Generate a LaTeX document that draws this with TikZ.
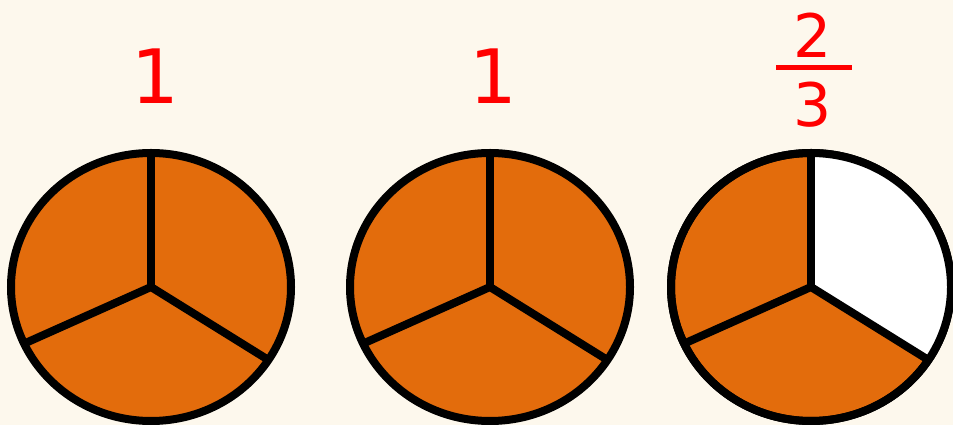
\documentclass[tikz,border=0pt]{standalone}
\usepackage{fontspec}
\setmainfont{DejaVu Sans}
\definecolor{paper}{RGB}{253,248,237}
\definecolor{pieorange}{RGB}{227,108,12}
\definecolor{numred}{RGB}{255,0,0}
\begin{document}
\begin{tikzpicture}[x=1pt,y=1pt,
  pie/.style={draw=black,line width=8pt,fill=pieorange},
  spoke/.style={draw=black,line width=8pt},
  num/.style={text=numred,inner sep=0pt,font=\fontsize{75}{80}\selectfont},
  frac/.style={text=numred,inner sep=0pt,font=\fontsize{60}{64}\selectfont}]
\fill[paper] (0,0) rectangle (953,425);
\useasboundingbox (0,0) rectangle (953,425);
% the three pies
\coordinate (p1) at (151,138);
\coordinate (p2) at (490,138);
\coordinate (p3) at (811,138);
\foreach \p in {p1,p2,p3}
  \draw[pie] (\p) ellipse [x radius=140, y radius=134];
% one third left empty
\fill[white] (p3) -- ++(0,134) arc [start angle=90, end angle=-33, x radius=140, y radius=134] -- cycle;
\draw[black,line width=8pt] (p3) ellipse [x radius=140, y radius=134];
\foreach \p in {p1,p2,p3}{
  \draw[spoke] (\p) -- ++(0,134);
  \draw[spoke] (\p) -- ++(205:140 and 134);
  \draw[spoke] (\p) -- ++(-33:140 and 134);
}
% labels
\node[num] (n1) at (155,349) {1};
\node[num] (n2) at (493,349) {1};
\node[frac] (top3) at (813,390) {2};
\node[frac] (bot3) at (813,320) {3};
\draw[numred,line width=5pt] (776,357) -- (852,357);
\end{tikzpicture}
\end{document}
